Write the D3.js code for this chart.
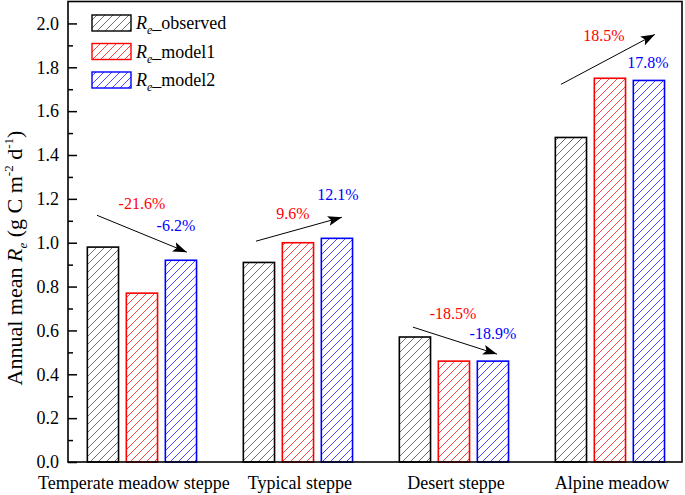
<!DOCTYPE html>
<html><head><meta charset="utf-8">
<script src="https://cdn.jsdelivr.net/npm/d3@7"></script>
<style>body{margin:0;background:#fff}svg{display:block}svg text{font-family:"Liberation Serif","Times New Roman",Times,"DejaVu Serif",serif !important}</style>
</head><body>
<script>
const categories = ["Temperate meadow steppe","Typical steppe","Desert steppe","Alpine meadow"];
const seriesNames = ["observed","model1","model2"];
const observed = [0.98,0.91,0.57,1.48];
const model1 = [0.77,1.00,0.46,1.75];
const model2 = [0.92,1.02,0.46,1.74];
const model1Change = ["-21.6%","9.6%","-18.5%","18.5%"];
const model2Change = ["-6.2%","12.1%","-18.9%","17.8%"];
const yTicks = [0,0.2,0.4,0.6,0.8,1.0,1.2,1.4,1.6,1.8,2.0];
const yMinorTicks = [0.1,0.3,0.5,0.7,0.9,1.1,1.3,1.5,1.7,1.9];
// annotation anchors in data space (category index, value)
const arrowStart = [[-0.288,1.125],[0.731,1.007],[1.737,0.615],[2.686,1.722]];
const arrowEnd = [[0.288,0.957],[1.282,1.116],[2.276,0.492],[3.288,1.950]];
const model1LabelAt = [[0,1.153],[0.968,1.107],[1.994,0.651],[2.962,1.918]];
const model2LabelAt = [[0.218,1.052],[1.256,1.194],[2.25,0.560],[3.244,1.795]];

const colors = ["#000000","#ff0000","#0000ff"];
const hatchColors = ["#606060","#ff3333","#3333ff"];
const series = [observed, model1, model2];

const FONT = '"Liberation Serif","Times New Roman",Times,"DejaVu Serif",serif';
const W=685,H=495;
const mLeft=68,mRight=682,mTop=1.5,mBottom=462;
const svg = d3.select("body").append("svg").attr("width",W).attr("height",H).attr("font-family",FONT);
const x = d3.scaleLinear().domain([-0.474,3.462]).range([mLeft,mRight]);
const y = d3.scaleLinear().domain([0,2.1]).range([mBottom,mTop]);
const offs = [-0.25,0,0.25], bw = 0.2;

const defs = svg.append("defs");
hatchColors.forEach((c,i)=>{
  const p = defs.append("pattern").attr("id","h"+i).attr("patternUnits","userSpaceOnUse")
    .attr("width",8).attr("height",8);
  p.append("path").attr("d","M0,8 L8,0 M-2,2 L2,-2 M6,10 L10,6")
    .attr("stroke",c).attr("stroke-width",0.9).attr("fill","none");
});
defs.append("marker").attr("id","arr").attr("markerUnits","userSpaceOnUse")
  .attr("viewBox","0 0 14 10").attr("refX",14).attr("refY",5)
  .attr("markerWidth",14).attr("markerHeight",10).attr("orient","auto")
  .append("path").attr("d","M0,0 L14,5 L0,10 L3,5 Z").attr("fill","#000");

// bars
series.forEach((vals,j)=>{
  svg.append("g").selectAll("rect").data(vals).join("rect")
    .attr("x",(d,i)=>x(i+offs[j]-bw/2))
    .attr("width",x(bw)-x(0))
    .attr("y",d=>y(d)).attr("height",d=>y(0)-y(d))
    .attr("fill","url(#h"+j+")").attr("stroke",colors[j]).attr("stroke-width",1.6);
});

// frame
svg.append("rect").attr("x",mLeft).attr("y",mTop).attr("width",mRight-mLeft).attr("height",mBottom-mTop)
  .attr("fill","none").attr("stroke","#000").attr("stroke-width",1.6);

// y axis
const yAxis = d3.axisLeft(y).tickValues(yTicks).tickFormat(d3.format(".1f")).tickSizeInner(-9).tickSizeOuter(0).tickPadding(8);
const ga = svg.append("g").attr("transform",`translate(${mLeft},0)`).call(yAxis);
ga.attr("font-family",FONT).attr("font-size",18);
ga.select(".domain").remove();
ga.selectAll(".tick line").attr("stroke-width",1.5);
ga.selectAll(".tick text").attr("fill","#000").attr("dx",-1);
const gm = svg.append("g").attr("transform",`translate(${mLeft},0)`)
  .call(d3.axisLeft(y).tickValues(yMinorTicks).tickSizeInner(-5).tickSizeOuter(0).tickFormat(""));
gm.select(".domain").remove();
gm.selectAll(".tick line").attr("stroke-width",1.5);

// x labels (first one pulled toward the left edge as in the original)
const labelNudge = [-8,2,2,2];
svg.append("g").selectAll("text").data(categories).join("text")
  .attr("x",(d,i)=>x(i)+labelNudge[i]).attr("y",489).attr("text-anchor","middle")
  .attr("font-size",18).text(d=>d);

// y title
const yt = svg.append("text").attr("transform","translate(22,258) rotate(-90)")
  .attr("text-anchor","middle").attr("font-size",22);
yt.append("tspan").text("Annual mean ");
yt.append("tspan").attr("font-style","italic").text("R");
yt.append("tspan").attr("font-style","italic").attr("font-size",13).attr("dy",5).text("e");
yt.append("tspan").attr("dy",-5).text(" (g C m");
yt.append("tspan").attr("font-size",13).attr("dy",-9).text("-2");
yt.append("tspan").attr("dy",9).text(" d");
yt.append("tspan").attr("font-size",13).attr("dy",-9).text("-1");
yt.append("tspan").attr("dy",9).text(")");

// legend
const lg = svg.append("g");
seriesNames.forEach((n,j)=>{
  const cy = 23 + j*28.5;
  lg.append("rect").attr("x",92).attr("y",cy-8).attr("width",39).attr("height",16)
    .attr("fill","url(#h"+j+")").attr("stroke",colors[j]).attr("stroke-width",1.4);
  const t = lg.append("text").attr("x",136).attr("y",cy+6).attr("font-size",18);
  t.append("tspan").attr("font-style","italic").text("R");
  t.append("tspan").attr("font-style","italic").attr("font-size",12).attr("dy",5).text("e");
  t.append("tspan").attr("dy",-5).text("_"+n);
});

// arrows
svg.append("g").selectAll("line").data(arrowStart).join("line")
  .attr("x1",d=>x(d[0])).attr("y1",d=>y(d[1]))
  .attr("x2",(d,i)=>x(arrowEnd[i][0])).attr("y2",(d,i)=>y(arrowEnd[i][1]))
  .attr("stroke","#000").attr("stroke-width",1).attr("marker-end","url(#arr)");

// change labels
svg.append("g").selectAll("text").data(model1Change).join("text")
  .attr("x",(d,i)=>x(model1LabelAt[i][0])).attr("y",(d,i)=>y(model1LabelAt[i][1]))
  .attr("text-anchor","middle").attr("font-size",16).attr("fill","#ff0000").text(d=>d);
svg.append("g").selectAll("text").data(model2Change).join("text")
  .attr("x",(d,i)=>x(model2LabelAt[i][0])).attr("y",(d,i)=>y(model2LabelAt[i][1]))
  .attr("text-anchor","middle").attr("font-size",16).attr("fill","#0000ff").text(d=>d);
</script>
</body></html>
